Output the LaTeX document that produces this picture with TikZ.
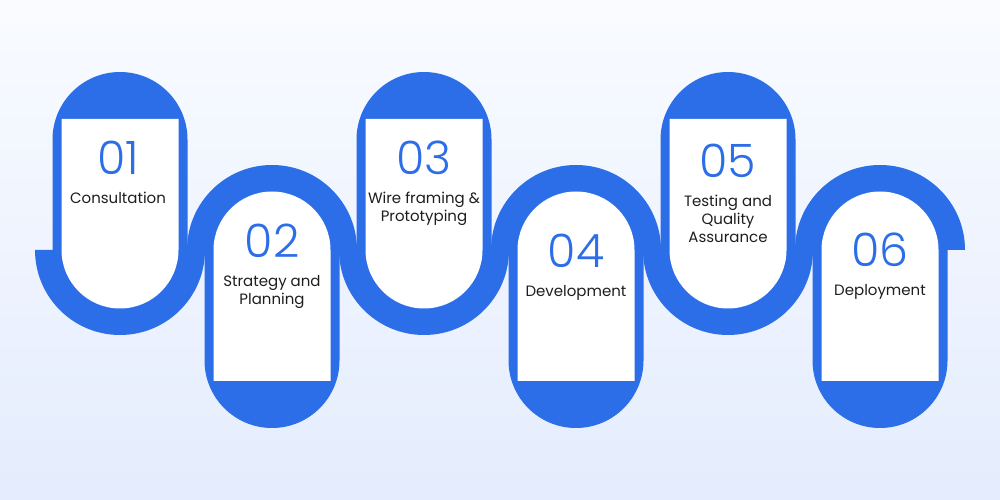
\documentclass[tikz,border=0pt]{standalone}
\usepackage{fontspec}
\setmainfont{Poppins}
\newfontfamily\numfont{Poppins Light}
\usepackage{xcolor}
\usepackage{tikz}
\usetikzlibrary{positioning}
\definecolor{stepblue}{RGB}{44,110,232}
\definecolor{bgtop}{RGB}{249,251,255}
\definecolor{bgbottom}{RGB}{228,236,253}
\definecolor{steptext}{RGB}{30,30,30}

\begin{document}
\begin{tikzpicture}[x=1pt, y=1pt, node distance=17pt,
  bluepart/.style={fill=stepblue},
  whitecard/.style={fill=white},
  stepnum/.style={inner sep=0pt, text=stepblue, font=\numfont\fontsize{46}{46}\selectfont},
  stepname/.style={inner sep=0pt, text=steptext, align=center, font=\fontsize{15}{18}\selectfont}]
\useasboundingbox (0,0) rectangle (1000,500);
\fill[top color=bgtop, bottom color=bgbottom] (0,0) rectangle (1000,500);

% blue band, cards going up
\foreach \x in {120,424,728} {
  \fill[bluepart] (\x-67.5,250) -- (\x-67.5,360.5) arc[start angle=180, end angle=0, radius=67.5] -- (\x+67.5,250) -- cycle;
  \fill[bluepart] (\x-85,250) arc[start angle=180, end angle=360, radius=85] -- cycle;
}
% blue band, cards going down
\foreach \x in {272,576,880} {
  \fill[bluepart] (\x-85,250) arc[start angle=180, end angle=0, radius=85] -- cycle;
  \fill[bluepart] (\x-67.5,250) -- (\x-67.5,139.5) arc[start angle=180, end angle=360, radius=67.5] -- (\x+67.5,250) -- cycle;
}

% white cards
\foreach \x in {120,424,728}
  \fill[whitecard] (\x-58.5,381) -- (\x-58.5,250) arc[start angle=180, end angle=360, radius=58.5] -- (\x+58.5,381) -- cycle;
\foreach \x in {272,576,880}
  \fill[whitecard] (\x-58.5,119) -- (\x-58.5,250) arc[start angle=180, end angle=0, radius=58.5] -- (\x+58.5,119) -- cycle;

% numbers and names
\node[stepnum] (n1) at (118,342) {01};
\node[stepname, below=of n1] (t1) {Consultation};
\node[stepnum] (n2) at (272,259) {02};
\node[stepname, below=of n2] (t2) {Strategy and\\Planning};
\node[stepnum] (n3) at (424,342) {03};
\node[stepname, below=of n3] (t3) {Wire framing \&\\Prototyping};
\node[stepnum] (n4) at (576,249) {04};
\node[stepname, below=of n4] (t4) {Development};
\node[stepnum] (n5) at (728,339) {05};
\node[stepname, below=of n5] (t5) {Testing and\\Quality\\Assurance};
\node[stepnum] (n6) at (880,250) {06};
\node[stepname, below=of n6] (t6) {Deployment};
\end{tikzpicture}
\end{document}
